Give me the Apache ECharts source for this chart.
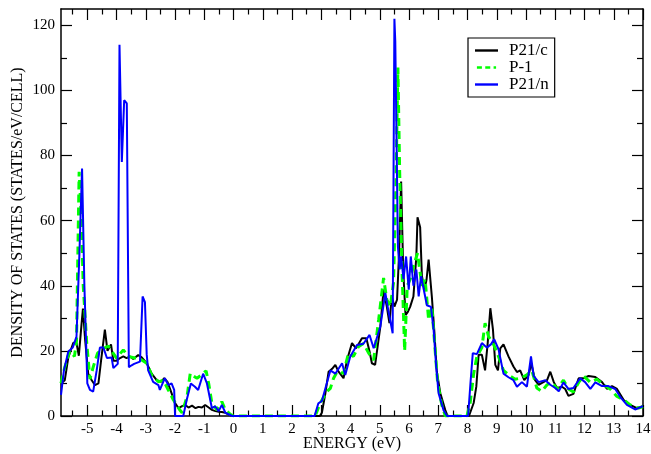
<!DOCTYPE html>
<html>
<head>
<meta charset="utf-8">
<script src="https://cdn.jsdelivr.net/npm/echarts@6/dist/echarts.min.js"></script>
<style>
html,body{margin:0;padding:0;background:#fff;}
#chart{width:651px;height:454px;}
</style>
</head>
<body>
<div id="chart"></div>
<script>
// ---- data ----
const seriesNames = ['P21/c', 'P-1', 'P21/n'];

const blackX = [-5.9,-5.77,-5.65,-5.48,-5.37,-5.29,-5.2,-5.15,-5.08,-4.97,
-4.85,-4.74,-4.62,-4.53,-4.4,-4.31,-4.19,-4.11,-4.0,-3.88,
-3.77,-3.66,-3.54,-3.43,-3.26,-3.14,-2.97,-2.8,-2.63,-2.48,
-2.37,-2.26,-2.12,-2.0,-1.88,-1.76,-1.65,-1.54,-1.42,-1.3,
-1.2,-1.08,-0.97,-0.85,-0.74,-0.62,-0.51,-0.4,-0.28,-0.15,
-0.05,1,2,2.95,3.02,3.14,3.25,3.37,3.48,3.59,
3.76,3.88,4.05,4.19,4.39,4.54,4.65,4.73,4.84,5.02,
5.13,5.24,5.33,5.41,5.5,5.59,5.66,5.73,5.8,5.88,
5.96,6.04,6.15,6.25,6.29,6.38,6.44,6.53,6.6,6.67,
6.78,6.87,6.95,7.07,7.24,7.32,8.05,8.09,8.21,8.3,
8.38,8.49,8.6,8.69,8.78,8.87,8.95,9.04,9.12,9.23,
9.4,9.57,9.69,9.8,9.94,10.09,10.18,10.31,10.43,10.58,
10.72,10.83,10.95,11.06,11.23,11.34,11.45,11.62,11.8,11.97,
12.14,12.37,12.6,12.77,12.94,13.11,13.34,13.56,13.79,13.96,
14];
const blackY = [10,11,18,22.5,22.4,18.5,28,33,24,13,
11,9.5,10,17,26.5,20,22,17,17,17.8,
18.3,17.8,18.3,17.5,18.7,18,16.2,13,11,10.5,
11.6,10.5,7,4,2.4,3,3.4,2.6,3.2,2.4,
2.8,2.6,3.4,2.6,1.9,1.5,1.3,1.2,1,0.4,
0,0,0,0,1,7,13.6,14.5,15.7,13.6,
11.6,17.2,22.4,20.8,23.9,23.9,19.8,16.2,15.7,27.5,
38.8,33.6,28.5,36.7,33.6,35.7,50,72,45,31,
32,33.6,36.7,49,61,58,43,38.8,42,48,
36.7,25.4,13.6,7,1.8,0,0,0.5,4,9,
18.8,18.8,14,22.4,33.1,26.5,15.7,14,20.8,22,
18.3,15.2,13.5,14,11,12.6,16.2,11,9.6,10.3,
11,13.6,10.4,8.6,9,8.3,6.2,6.8,11.6,11.6,
12.3,12,10.4,8.3,9.2,8.3,4.9,3.4,2.4,2.9,
2.9];

const greenX = [-5.9,-5.77,-5.6,-5.44,-5.37,-5.28,-5.2,-5.14,-5.02,-4.91,
-4.8,-4.65,-4.45,-4.28,-4.17,-4.0,-3.77,-3.6,-3.37,-3.14,
-2.97,-2.8,-2.57,-2.4,-2.23,-2.06,-1.95,-1.85,-1.76,-1.59,
-1.48,-1.37,-1.25,-1.1,-0.94,-0.85,-0.74,-0.57,-0.4,-0.28,
-0.11,0,1,2,2.79,2.96,3.19,3.31,3.42,3.54,
3.76,3.93,4.1,4.27,4.44,4.62,4.79,4.96,5.13,5.24,
5.36,5.47,5.55,5.62,5.68,5.76,5.85,5.94,6.04,6.15,
6.29,6.44,6.55,6.67,6.78,6.9,6.98,7.12,7.24,7.98,
8.09,8.21,8.32,8.49,8.6,8.72,8.87,9.0,9.23,9.46,
9.63,9.8,10.03,10.2,10.37,10.54,10.72,10.89,11.06,11.28,
11.45,11.62,11.8,11.97,12.2,12.42,12.65,12.88,13.11,13.34,
13.56,13.85,14];
const greenY = [10,15,20,18.3,23,75,60,40,22.4,11.3,
15,19.3,20.8,21.5,20,17.8,20.3,18.3,17.8,17.2,
16.2,12.6,10.5,11,8,5,3.4,2,1,6,
13.1,12.3,11.6,12.6,13.9,10,3.9,1.9,4.4,1.9,
0.5,0,0,0,0,3.9,7.5,8.5,11.6,13.6,
13.1,19.3,18.3,21.3,22.3,19.3,17.2,29.5,42.4,35.7,
33.6,41,70,107,75,45,20,40,42,46,
50,40,42,29.5,33.6,19.3,10,3.4,0,0,
4,13,18.3,21,28.5,24.4,22.4,19.8,14,12.3,
11.3,11.6,12.6,14,8.6,7.6,9.6,10.3,8.3,11,
8.3,7.4,10.3,12.3,10.3,11.3,9.6,8.3,6,5,
3.4,2.4,2.9];

const blueX = [-5.9,-5.8,-5.65,-5.5,-5.37,-5.27,-5.18,-5.1,-5.0,-4.91,
-4.8,-4.68,-4.57,-4.45,-4.33,-4.17,-4.11,-3.96,-3.9,-3.82,
-3.74,-3.65,-3.58,-3.5,-3.4,-3.2,-3.11,-3.03,-2.97,-2.92,
-2.75,-2.57,-2.52,-2.35,-2.23,-2.12,-2.03,-2.0,-1.72,-1.6,
-1.46,-1.32,-1.21,-1.04,-0.99,-0.91,-0.74,-0.63,-0.51,-0.4,
-0.28,-0.05,1,2,2.77,2.9,3.02,3.31,3.48,3.71,
3.82,3.99,4.22,4.44,4.65,4.79,5.02,5.19,5.3,5.44,
5.5,5.53,5.58,5.62,5.68,5.73,5.81,5.9,5.99,6.06,
6.15,6.25,6.33,6.41,6.5,6.61,6.75,6.84,6.93,7.01,
7.18,7.3,8.02,8.1,8.18,8.32,8.49,8.66,8.8,8.91,
9.06,9.23,9.4,9.57,9.69,9.86,10.03,10.17,10.26,10.43,
10.66,10.83,11.0,11.12,11.28,11.45,11.62,11.85,12.02,12.2,
12.37,12.6,12.82,13.05,13.22,13.45,13.73,13.96,14];
const blueY = [6.5,14,19.8,21,24.4,50,76,40,10,8,
7.5,14,21,21,17.8,18,14.7,16,114,78,
97,96,15,15.5,16,16.7,36.7,35,19,14,
10.5,9.5,8,11.6,9.5,10,8,0,0,5,
10,9,8,13,13.1,10,2.4,3,1.5,3.4,
1,0,0,0,0,3.9,4.6,14,13,16.2,
12.6,18.3,21.8,22.2,24.9,20.8,27.5,37.8,32,25.4,
122,115,80,52,45,49,42,49,38.8,49,
40,45,36.7,42.9,39,34,33.5,26.5,15,7,
1.8,0,0,10,19.3,19,22.4,21,22,23.6,
20.5,13,11.9,11,9,10.4,9,18.3,12.3,10.4,
11,9.6,8.6,7.6,10.3,8.3,8.6,11.6,10.4,8.3,
10.3,9.2,9.2,8.3,5.9,3.4,2,2.9,2.9];

const xMajorTicks = [-5,-4,-3,-2,-1,0,1,2,3,4,5,6,7,8,9,10,11,12,13,14];
const xMinorTicks = [-5.5,-4.5,-3.5,-2.5,-1.5,-0.5,0.5,1.5,2.5,3.5,4.5,5.5,6.5,7.5,8.5,9.5,10.5,11.5,12.5,13.5];
const yMajorTicks = [0,20,40,60,80,100,120];
const yMinorTicks = [10,30,50,70,90,110];

// ---- chart ----
const zip = (xs, ys) => xs.map((x, i) => [x, ys[i]]);
const FONT = 'Liberation Serif';
const XMIN = -5.9, XMAX = 14, YMIN = 0, YMAX = 125;
const ICON_SOLID = 'path://M0,0h23v2.4h-23z';
const ICON_DASH = 'path://M0,0h6v3h-6z M10,0h6v3h-6z M20,0h3v3h-3z';

function xAx(pos, values, len, showLine, showLabel, extra) {
  return Object.assign({
    type: 'value', position: pos, min: XMIN, max: XMAX,
    axisLine: { show: showLine, onZero: false, lineStyle: { color: '#000', width: 1.5 } },
    axisTick: { show: true, inside: true, length: len, customValues: values, lineStyle: { color: '#000', width: 1.2 } },
    axisLabel: { show: showLabel, customValues: values, color: '#000', fontFamily: FONT, fontSize: 15, margin: 6 },
    splitLine: { show: false }
  }, extra || {});
}
function yAx(pos, values, len, showLine, showLabel, extra) {
  return Object.assign({
    type: 'value', position: pos, min: YMIN, max: YMAX,
    axisLine: { show: showLine, onZero: false, lineStyle: { color: '#000', width: 1.5 } },
    axisTick: { show: true, inside: true, length: len, customValues: values, lineStyle: { color: '#000', width: 1.2 } },
    axisLabel: { show: showLabel, customValues: values, color: '#000', fontFamily: FONT, fontSize: 15, margin: 6 },
    splitLine: { show: false }
  }, extra || {});
}

const chart = echarts.init(document.getElementById('chart'), null, { renderer: 'canvas' });
chart.setOption({
  animation: false,
  backgroundColor: '#fff',
  grid: { left: 61, right: 8, top: 9, bottom: 38, containLabel: false, outerBoundsMode: 'none' },
  legend: {
    orient: 'vertical', left: 468, top: 38,
    data: [
      { name: seriesNames[0], icon: ICON_SOLID },
      { name: seriesNames[1], icon: ICON_DASH },
      { name: seriesNames[2], icon: ICON_SOLID }
    ],
    backgroundColor: '#fff',
    borderColor: '#000', borderWidth: 1.2,
    padding: [4, 6, 4, 7],
    itemGap: 0, itemWidth: 23, itemHeight: 2.5,
    textStyle: { fontFamily: FONT, fontSize: 17, lineHeight: 16, color: '#000', padding: [0, 0, 0, 6] }
  },
  xAxis: [
    xAx('bottom', xMajorTicks, 11, true, true, {
      name: 'ENERGY (eV)', nameLocation: 'middle', nameGap: 20, nameMoveOverlap: false,
      nameTextStyle: { fontFamily: FONT, fontSize: 16, color: '#000' }
    }),
    xAx('bottom', xMinorTicks, 5.5, false, false),
    xAx('top', xMajorTicks, 11, true, false),
    xAx('top', xMinorTicks, 5.5, false, false)
  ],
  yAxis: [
    yAx('left', yMajorTicks, 11, true, true, {
      name: 'DENSITY OF STATES (STATES/eV/CELL)', nameLocation: 'middle', nameGap: 43, nameMoveOverlap: false,
      nameTextStyle: { fontFamily: FONT, fontSize: 16, color: '#000', verticalAlign: 'middle' }
    }),
    yAx('left', yMinorTicks, 6, false, false),
    yAx('right', yMajorTicks, 11, true, false),
    yAx('right', yMinorTicks, 6, false, false)
  ],
  series: [
    { name: seriesNames[0], type: 'line', data: zip(blackX, blackY), showSymbol: false, symbol: 'none',
      color: '#000', lineStyle: { color: '#000', width: 2 } },
    { name: seriesNames[1], type: 'line', data: zip(greenX, greenY), showSymbol: false, symbol: 'none',
      color: '#00ff00', lineStyle: { color: '#00ff00', width: 3, type: [8, 5] } },
    { name: seriesNames[2], type: 'line', data: zip(blueX, blueY), showSymbol: false, symbol: 'none',
      color: '#0000ff', lineStyle: { color: '#0000ff', width: 2 } }
  ]
});
</script>
</body>
</html>
